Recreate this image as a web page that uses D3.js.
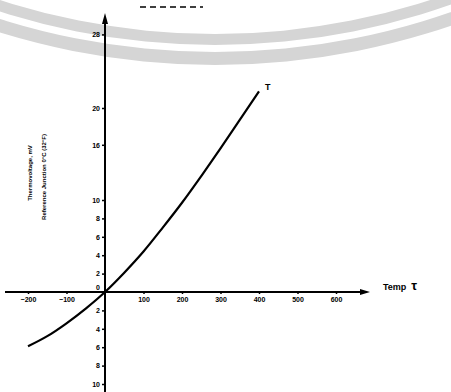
<!DOCTYPE html>
<html>
<head>
<meta charset="utf-8">
<script src="https://cdn.jsdelivr.net/npm/d3@7"></script>
<style>
  body { margin: 0; background: #fff; }
  svg { display: block; font-family: "Liberation Sans", Arial, sans-serif; }
</style>
</head>
<body>
<figure id="chart" style="margin:0"></figure>
<script>
// temperature (deg C) and output (mV) of the type T curve
const temps = [-200, -150, -100, -50, 0, 50, 100, 150, 200, 250, 300, 350, 400];
const volts = [-5.9, -4.8, -3.4, -1.8, 0, 2.1, 4.4, 7.0, 9.7, 12.6, 15.6, 18.7, 21.8];
const xTicks = [-200, -100, 100, 200, 300, 400, 500, 600];
const yTicks = [-10, -8, -6, -4, -2, 0, 2, 4, 6, 8, 10, 16, 20, 28];
const curveName = "T";
const xTitle = "Temp";
const xSymbol = "τ";
const yTitle1 = "Thermovoltage, mV";
const yTitle2 = "Reference Junction 0°C (32°F)";

const width = 451;
const height = 392;

const svg = d3.select("figure#chart")
  .append("svg")
  .attr("width", width)
  .attr("height", height);

// faint watermark rings from the scan (lower half of two circles)
const ring = d3.arc().startAngle(Math.PI / 2).endAngle(3 * Math.PI / 2);
const wm = svg.append("g").attr("transform", "translate(215,-664)");
wm.append("path")
  .attr("d", ring.innerRadius(698).outerRadius(709)())
  .attr("fill", "#d5d5d5");
wm.append("path")
  .attr("d", ring.innerRadius(716).outerRadius(729)())
  .attr("fill", "#d5d5d5");

const x = d3.scaleLinear().domain([-200, 600]).range([28, 336]);
const y = d3.scaleLinear().domain([-10, 10]).range([384, 200]);

const x0 = x(0);
const y0 = y(0);

// x axis
const xAxis = svg.append("g")
  .attr("transform", `translate(0,${y0})`)
  .call(d3.axisBottom(x).tickValues(xTicks).tickSize(2).tickPadding(3));
xAxis.select(".domain").remove();
xAxis.selectAll("line").attr("stroke", "#000").attr("stroke-width", 1.5);
xAxis.selectAll("text")
  .attr("fill", "#000")
  .style("font-size", "7px")
  .style("font-weight", "bold");

svg.append("line")
  .attr("x1", 5).attr("x2", 362)
  .attr("y1", y0).attr("y2", y0)
  .attr("stroke", "#000").attr("stroke-width", 2);
svg.append("path")
  .attr("d", `M${370},${y0} L${360},${y0 - 3} L${360},${y0 + 3} Z`)
  .attr("fill", "#000");

// y axis
const yAxis = svg.append("g")
  .attr("transform", `translate(${x0},0)`)
  .call(d3.axisLeft(y).tickValues(yTicks).tickSize(3).tickPadding(2)
    .tickFormat(d => Math.abs(d)));
yAxis.select(".domain").remove();
yAxis.selectAll("line").attr("stroke", "#000").attr("stroke-width", 1.5);
yAxis.selectAll("text")
  .attr("fill", "#000")
  .style("font-size", "7px")
  .style("font-weight", "bold");
yAxis.selectAll(".tick").filter(d => d === 0)
  .select("text").attr("dy", "-0.4em");
yAxis.selectAll(".tick").filter(d => d === 0)
  .select("line").remove();

svg.append("line")
  .attr("x1", x0).attr("x2", x0)
  .attr("y1", 20).attr("y2", height)
  .attr("stroke", "#000").attr("stroke-width", 2);
svg.append("path")
  .attr("d", `M${x0},${13} L${x0 - 3},${24} L${x0 + 3},${24} Z`)
  .attr("fill", "#000");

// curve
const data = temps.map((t, i) => ({t: t, v: volts[i]}));
const line = d3.line()
  .x(d => x(d.t))
  .y(d => y(d.v))
  .curve(d3.curveMonotoneX);

svg.append("path")
  .datum(data)
  .attr("fill", "none")
  .attr("stroke", "#000")
  .attr("stroke-width", 2.2)
  .attr("d", line);

const last = data[data.length - 1];
svg.append("text")
  .attr("x", x(last.t) + 6)
  .attr("y", y(last.v) - 1)
  .style("font-size", "9px")
  .style("font-weight", "bold")
  .text(curveName);

// axis titles
const xt = svg.append("text")
  .attr("x", 383)
  .attr("y", y0 - 2)
  .style("font-weight", "bold");
xt.append("tspan").style("font-size", "9px").text(xTitle);
xt.append("tspan").attr("dx", 5).style("font-size", "13px").text(xSymbol);

svg.append("text")
  .attr("transform", "translate(32,173) rotate(-90)")
  .attr("text-anchor", "middle")
  .style("font-size", "6px")
  .style("font-weight", "bold")
  .text(yTitle1);
svg.append("text")
  .attr("transform", "translate(46,177) rotate(-90)")
  .attr("text-anchor", "middle")
  .style("font-size", "6px")
  .style("font-weight", "bold")
  .text(yTitle2);

// short dashed rule at the top of the page
svg.append("line")
  .attr("x1", 140).attr("x2", 203)
  .attr("y1", 7).attr("y2", 7)
  .attr("stroke", "#000")
  .attr("stroke-width", 1.3)
  .attr("stroke-dasharray", "6,4");
</script>
</body>
</html>
